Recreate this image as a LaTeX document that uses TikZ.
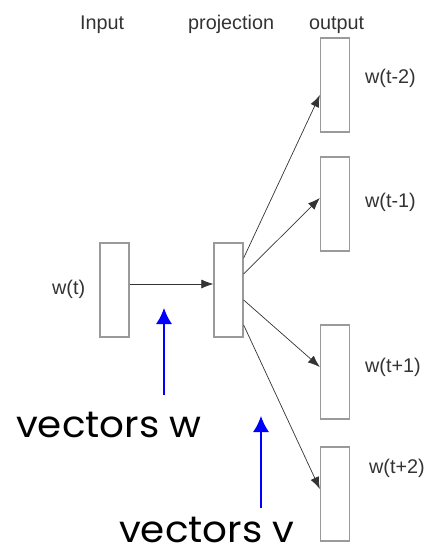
\documentclass[tikz,border=0pt]{standalone}
\usepackage{fontspec}
\setmainfont{Liberation Sans}
\newfontfamily\bigfont[FakeStretch=1.05]{Poppins}
\usetikzlibrary{arrows.meta,calc}
\definecolor{txtgray}{HTML}{333333}
\definecolor{boxgray}{HTML}{9A9A9A}
\tikzset{
  layer/.style={draw=boxgray, line width=1.3pt, fill=white, minimum width=29pt, minimum height=94pt, inner sep=0pt},
  lbl/.style={anchor=base west, text=txtgray, font=\fontsize{19.8}{22}\selectfont, inner sep=0pt},
  big/.style={anchor=base west, text=black, font=\bigfont\fontsize{37}{42}\selectfont, inner sep=0pt},
  conn/.style={draw=black!80, line width=0.7pt, -{Latex[length=12pt,width=9pt]}},
  bluearr/.style={draw=blue, line width=1.4pt, -{Latex[length=16pt,width=16pt]}}
}
\begin{document}
\begin{tikzpicture}[x=1pt,y=-1pt]
\useasboundingbox (0,0) rectangle (429,547);
% layers
\node[layer] (in) at (114.5,290) {};
\node[layer] (proj) at (228.5,290) {};
\node[layer] (o1) at (335,85) {};
\node[layer] (o2) at (335,204) {};
\node[layer] (o3) at (335,372) {};
\node[layer] (o4) at (335,494) {};
% headings
\node[lbl] (hin) at (80,29) {Input};
\node[lbl] (hproj) at (188,29) {projection};
\node[lbl] (hout) at (309,29) {output};
% word labels
\node[lbl] (lwt) at (52,294) {w(t)};
\node[lbl] (lm2) at (365,83) {w(t-2)};
\node[lbl] (lm1) at (365,207) {w(t-1)};
\node[lbl] (lp1) at (365,372) {w(t+1)};
\node[lbl] (lp2) at (369,473) {w(t+2)};
% connectors
\draw[conn] (in.east |- 0,284) -- (proj.west |- 0,284);
\draw[conn] ([yshift=32pt]proj.east) -- ([yshift=-10pt]o1.west);
\draw[conn] ([yshift=16pt]proj.east) -- ([yshift=6pt]o2.west);
\draw[conn] ([yshift=-10pt]proj.east) -- ([yshift=5pt]o3.west);
\draw[conn] ([yshift=-35pt]proj.east) -- ([yshift=5pt]o4.west);
% blue arrows and captions
\coordinate (bw0) at (164,395);
\coordinate (bw1) at (164,308);
\coordinate (bv0) at (261,508);
\coordinate (bv1) at (261,416);
\draw[bluearr] (bw0) -- (bw1);
\draw[bluearr] (bv0) -- (bv1);
\node[big] (vw) at (16,437) {vectors w};
\node[big] (vv) at (119,542) {vectors v};
\end{tikzpicture}
\end{document}
